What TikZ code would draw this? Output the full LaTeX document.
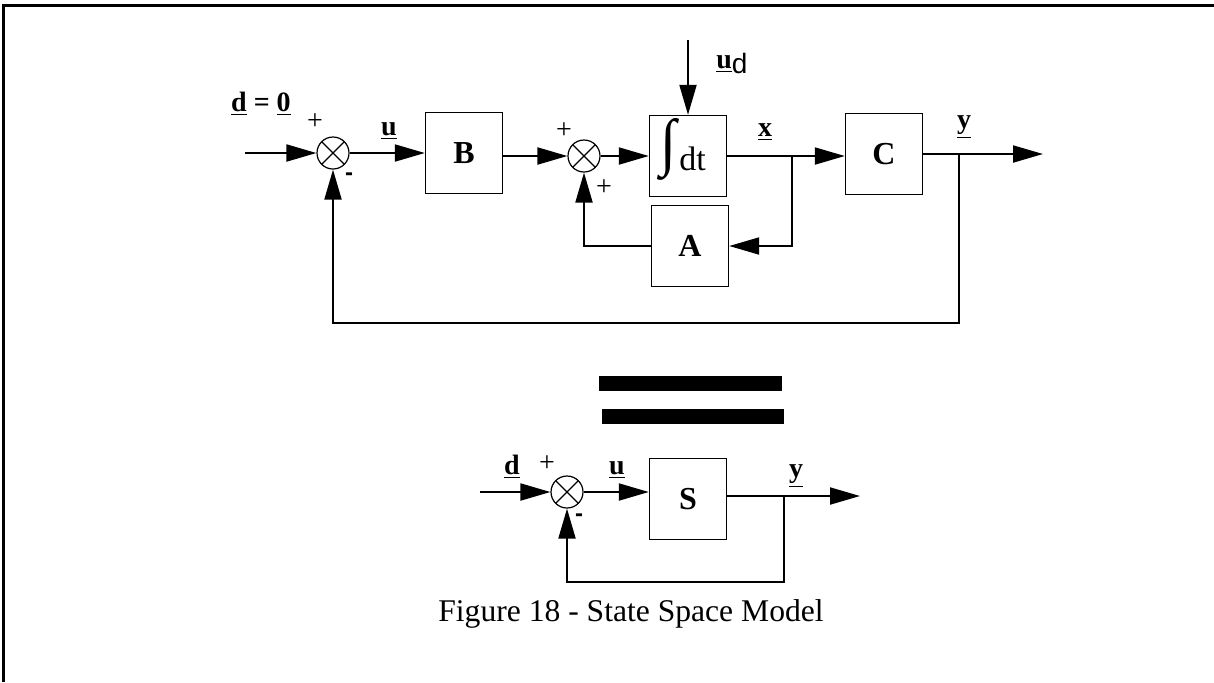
\documentclass[tikz,border=0pt]{standalone}
\usepackage{graphicx}
\usepackage{fontspec}
\setmainfont{Liberation Serif}
\newfontfamily\helv{Liberation Sans}
\usetikzlibrary{
  arrows.meta,
  positioning,
  calc
}
\tikzset{
  ssblock/.style={
    draw, line width=0.7pt, minimum width=38.5pt, minimum height=40.5pt,
    inner sep=0pt, font=\fontsize{16}{18}\selectfont\bfseries
  },
  sumjoint/.style={
    draw, circle, line width=0.6pt, minimum size=16pt, inner sep=0pt,
    path picture={
      \draw[line width=0.6pt]
        (path picture bounding box.north west) -- (path picture bounding box.south east)
        (path picture bounding box.north east) -- (path picture bounding box.south west);
    }
  },
  flow/.style={-{Triangle[length=15pt, width=8.5pt]}, line width=1pt},
  wire/.style={line width=1pt},
  sgn/.style={font=\fontsize{14}{14}\selectfont, inner sep=0pt},
  minus/.style={font=\helv\fontsize{12}{12}\selectfont\bfseries, inner sep=0pt},
  vec/.style={font=\fontsize{14}{16}\selectfont\bfseries, inner sep=0pt},
  bar/.style={fill=black}
}
\newcommand{\vsig}[1]{\underline{\textbf{#1}}}

\begin{document}
\begin{tikzpicture}[x=0.5pt, y=-0.5pt]
  \useasboundingbox (0,0) rectangle (1214,682);
  \draw[line width=1.5pt] (3,682) -- (3,5) -- (1214,5);

  % full state space loop
  \node[sumjoint] (s1) at (333,153) {};
  \node[ssblock] (B) at (464,153) {B};
  \node[sumjoint] (s2) at (584,156) {};
  \node[ssblock] (integ) at (688,156) {};
  \node[ssblock] (C) at (884,154) {C};
  \node[ssblock] (A) at (690,246) {A};
  \node[inner sep=0pt] (intsign) at (668,149) {\resizebox*{8pt}{31pt}{∫}};
  \node[inner sep=0pt, font=\fontsize{17}{17}\selectfont, anchor=base west] (dtlbl) at (679,170) {dt};
  \coordinate (din) at (245,153);
  \coordinate (udin) at (688,40);
  \coordinate (jx) at (792,156);
  \coordinate (jy) at (959,154);
  \coordinate (yout) at (1043,154);

  \draw[flow] (din) -- (s1);
  \draw[flow] (s1) -- (B.west |- s1);
  \draw[flow] (B.east |- s2) -- (s2);
  \draw[flow] (s2) -- (integ.west |- s2);
  \draw[flow] (udin) -- (integ.north);
  \draw[wire] (integ.east |- jx) -- (jx);
  \draw[flow] (jx) -- (C.west |- jx);
  \draw[flow] (jx) |- (A.east);
  \draw[flow] (A.west) -| (s2.south);
  \draw[flow] (C.east |- jy) -- (yout);
  \draw[flow] (jy) -- ++(0,169) -| (s1.south);

  \node[vec] (dlbl) at (261,104) {\vsig{d} = \vsig{0}};
  \node[sgn] (p1) at (315,122) {+};
  \node[minus] (m1) at (349,177) {-};
  \node[vec] (ulbl) at (389,131) {\vsig{u}};
  \node[sgn] (p2) at (564,131) {+};
  \node[sgn] (p3) at (604,188) {+};
  \node[vec, anchor=base west] (udlbl) at (716,68)
    {\vsig{u}\raisebox{-2.5pt}{\helv\mdseries\fontsize{14}{14}\selectfont d}};
  \node[vec] (xlbl) at (765,132) {\vsig{x}};
  \node[vec] (ylbl) at (964,127) {\vsig{y}};

  % equivalence bars
  \fill[bar] (599,376) rectangle (782,391);
  \fill[bar] (602,409) rectangle (784,424);

  % reduced loop
  \node[sumjoint] (s3) at (567,492) {};
  \node[ssblock] (S) at (688,499) {S};
  \coordinate (din2) at (480,492);
  \coordinate (jy2) at (784,496);
  \coordinate (yout2) at (860,496);

  \draw[flow] (din2) -- (s3);
  \draw[flow] (s3) -- (S.west |- s3);
  \draw[flow] (S.east |- jy2) -- (yout2);
  \draw[flow] (jy2) -- ++(0,86) -| (s3.south);

  \node[vec] (d2lbl) at (512,467) {\vsig{d}};
  \node[sgn] (p4) at (547,464) {+};
  \node[minus] (m2) at (579,518) {-};
  \node[vec] (u2lbl) at (617,470) {\vsig{u}};
  \node[vec] (y2lbl) at (796,476) {\vsig{y}};

  \node[font=\fontsize{15.8}{18}\selectfont, inner sep=0pt] (cap) at (631,614)
    {Figure 18 - State Space Model};
\end{tikzpicture}
\end{document}
